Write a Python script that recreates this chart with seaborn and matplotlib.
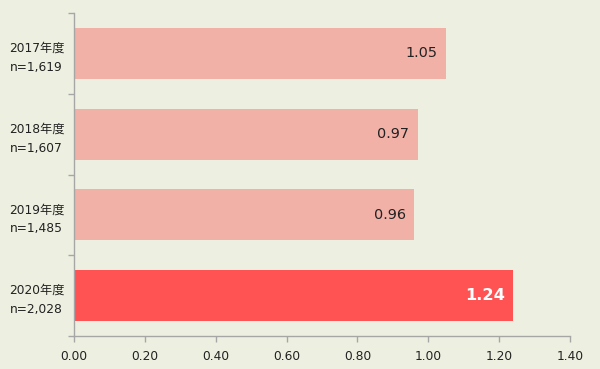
import numpy as np
import pandas as pd
import matplotlib
matplotlib.use('Agg')
import matplotlib.pyplot as plt
import seaborn as sns

years = ['2017年度', '2018年度', '2019年度', '2020年度']
counts = ['n=1,619', 'n=1,607', 'n=1,485', 'n=2,028']
values = [1.05, 0.97, 0.96, 1.24]
bar_colors = ['#F2B1A7', '#F2B1A7', '#F2B1A7', '#FF5252']
x_ticks = [0.0, 0.2, 0.4, 0.6, 0.8, 1.0, 1.2, 1.4]

sns.set_theme(style='white')
plt.rcParams['font.family'] = ['DejaVu Sans', 'Noto Sans CJK JP']

bg = '#EDF0E0'
axis_col = '#A6A6A6'

df = pd.DataFrame({'label': [y + '\n' + n for y, n in zip(years, counts)],
                   'value': values})

fig = plt.figure(figsize=(6, 3.69), dpi=100, facecolor=bg)
ax = fig.add_axes([74 / 600, 33 / 369, 496 / 600, 323 / 369])
ax.set_facecolor(bg)

sns.barplot(data=df, x='value', y='label', hue='label', palette=bar_colors,
            legend=False, width=0.63, ax=ax, saturation=1, linewidth=0)

ax.set_xlim(0, 1.4)
ax.set_ylim(3.5, -0.5)
ax.set_xticks(x_ticks)
ax.set_xticklabels(['%.2f' % t for t in x_ticks], fontsize=8.8, color='#222222')
ax.set_xlabel('')
ax.set_ylabel('')

# category labels centred, ticks at category boundaries
ax.set_yticks(range(len(years)))
ax.set_yticklabels(df['label'], fontsize=8.8, color='#222222', ha='center',
                   multialignment='center', linespacing=1.6)
ax.tick_params(axis='y', which='major', length=0, pad=27)
ax.set_yticks(np.arange(-0.5, len(years), 1.0), minor=True)
ax.tick_params(axis='y', which='minor', length=4, color=axis_col, width=1,
               left=True)
ax.tick_params(axis='x', length=4, color=axis_col, width=1, pad=6, bottom=True)

for s in ['top', 'right']:
    ax.spines[s].set_visible(False)
for s in ['left', 'bottom']:
    ax.spines[s].set_color(axis_col)
    ax.spines[s].set_linewidth(1)

for i, v in enumerate(values):
    if i == len(values) - 1:
        ax.text(v - 0.024, i, '%.2f' % v, ha='right', va='center',
                fontsize=11.7, fontweight='bold', color='white')
    else:
        ax.text(v - 0.024, i, '%.2f' % v, ha='right', va='center',
                fontsize=10.4, color='#222222')

fig.savefig('out.png', dpi=100, facecolor=bg)
